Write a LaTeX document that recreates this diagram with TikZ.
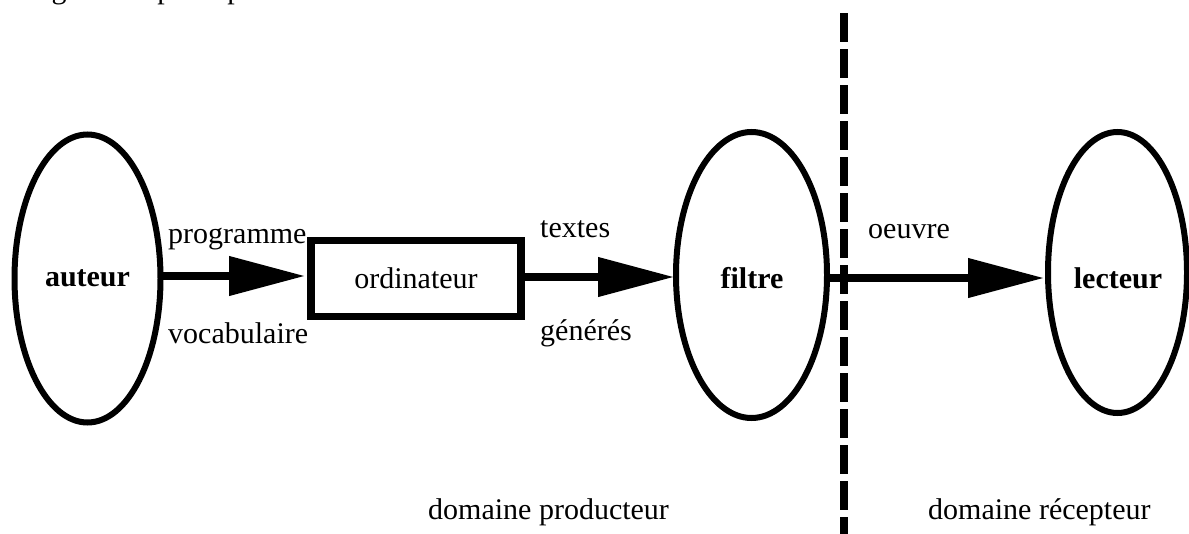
\documentclass[tikz,border=0pt]{standalone}
\usepackage{fontspec}
\setmainfont{Liberation Serif}
\usetikzlibrary{shapes.geometric,arrows.meta}
\begin{document}
\begin{tikzpicture}[x=1pt,y=-1pt,
  every node/.style={font=\fontsize{30}{36}\selectfont},
  oval/.style={ellipse,draw,line width=6pt,inner sep=0pt,outer sep=0pt},
  boxnode/.style={rectangle,draw,line width=7.5pt,inner sep=0pt,outer sep=0pt,minimum width=210pt,minimum height=76pt},
  flow/.style={line width=7.5pt,-{Triangle[length=76pt,width=38pt]}},
  sep/.style={line width=8pt,dash pattern=on 29pt off 7pt},
  lbl/.style={anchor=base west,inner sep=0pt},
  bold/.style={font=\fontsize{30}{36}\selectfont\bfseries}]
\useasboundingbox (0,0) rectangle (1189,533);
\clip (0,0) rectangle (1189,533);
% cropped caption line at the top
\node[lbl] (cap) at (8,-2) {Diagramme principal};
% nodes
\node[oval,minimum width=146pt,minimum height=288pt] (auteur) at (87.5,278.5) {};
\node[bold] (tauteur) at (87.5,278.5) {auteur};
\node[boxnode] (ordi) at (416,278.5) {ordinateur};
\node[oval,minimum width=151pt,minimum height=286pt] (filtre) at (751.5,275) {};
\node[bold] (tfiltre) at (752,278.5) {filtre};
\node[oval,minimum width=139pt,minimum height=281pt] (lecteur) at (1117.5,272.5) {};
\node[bold] (tlecteur) at (1118,278.5) {lecteur};
% separator
\coordinate (s1) at (844,13);
\coordinate (s2) at (844,540);
\draw[sep] (s1) -- (s2);
% connectors
\draw[flow,shorten >=6pt] (auteur.east |- 0,276) coordinate (a1) -- (ordi.west |- a1);
\draw[flow,shorten >=2pt] (ordi.east |- 0,277) coordinate (b1) -- (filtre.west |- b1);
\draw[flow,shorten >=4pt] (filtre.east |- 0,278) coordinate (c1) -- (lecteur.west |- c1);
% labels
\node[lbl] (l1) at (168,243) {programme};
\node[lbl] (l2) at (168,343) {vocabulaire};
\node[lbl] (l3) at (540,237) {textes};
\node[lbl] (l4) at (540,340) {générés};
\node[lbl] (l5) at (868,238) {oeuvre};
\node[lbl] (l6) at (428,519) {domaine producteur};
\node[lbl] (l7) at (928,519) {domaine récepteur};
\end{tikzpicture}
\end{document}
